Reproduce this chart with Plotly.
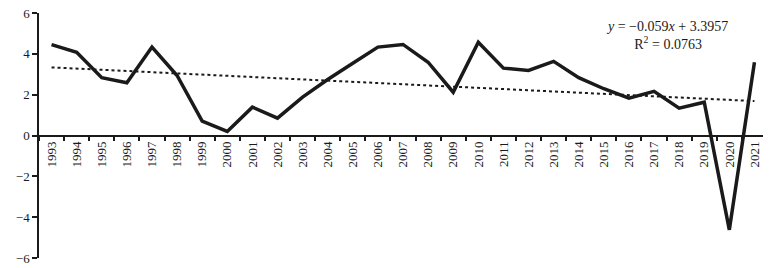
import plotly.graph_objects as go

years = [str(y) for y in range(1993, 2022)]
growth = [4.45, 4.08, 2.83, 2.58, 4.33, 2.94, 0.70, 0.20, 1.39, 0.85,
          1.88, 2.74, 3.54, 4.33, 4.46, 3.59, 2.12, 4.57, 3.30, 3.19,
          3.63, 2.83, 2.29, 1.83, 2.16, 1.34, 1.63, -4.62, 3.59]
trend_slope = -0.059
trend_intercept = 3.3957
r_squared = 0.0763
y_ticks = [-6, -4, -2, 0, 2, 4, 6]

trend = [trend_slope * (i + 1) + trend_intercept for i in range(len(years))]

font_family = "Liberation Serif, Times New Roman, serif"

fig = go.Figure()
fig.add_trace(go.Scatter(x=years, y=trend, mode="lines",
                         line=dict(color="#1a1a1a", width=2, dash="dot"),
                         hoverinfo="skip", showlegend=False))
fig.add_trace(go.Scatter(x=years, y=growth, mode="lines",
                         line=dict(color="#1a1a1a", width=3.5),
                         showlegend=False))

fig.add_annotation(xref="paper", yref="paper", x=0.863, y=0.985,
                   xanchor="center", yanchor="top", align="center",
                   showarrow=False,
                   text=f"<i>y</i> = −{abs(trend_slope):.3f}<i>x</i> + {trend_intercept:.4f}<br>R<sup>2</sup> = {r_squared:.4f}",
                   font=dict(family=font_family, size=14, color="#1a1a1a"))

fig.update_layout(
    width=763, height=258,
    margin=dict(l=31, r=4, t=5, b=8, autoexpand=False),
    paper_bgcolor="white", plot_bgcolor="white",
    font=dict(family=font_family, size=13, color="#1a1a1a"),
    xaxis=dict(type="category", tickson="boundaries", anchor="free", position=0.5,
               automargin=False, ticklabeloverflow="allow",
               showline=True, linecolor="#1a1a1a", linewidth=1.5,
               ticks="outside", ticklen=5, tickcolor="#1a1a1a", tickwidth=1.5,
               tickangle=-90, showgrid=False, zeroline=False,
               range=[-0.5, len(years) - 0.5],
               tickfont=dict(family=font_family, size=13, color="#1a1a1a")),
    yaxis=dict(range=[-6, 6], tickvals=y_ticks, showline=True, linecolor="#1a1a1a",
               automargin=False, ticklabeloverflow="allow",
               linewidth=1.5, ticks="outside", ticklen=5, tickcolor="#1a1a1a",
               tickwidth=1.5, showgrid=False, zeroline=False,
               tickfont=dict(family=font_family, size=13, color="#1a1a1a")),
)

fig.write_html("out.html")
